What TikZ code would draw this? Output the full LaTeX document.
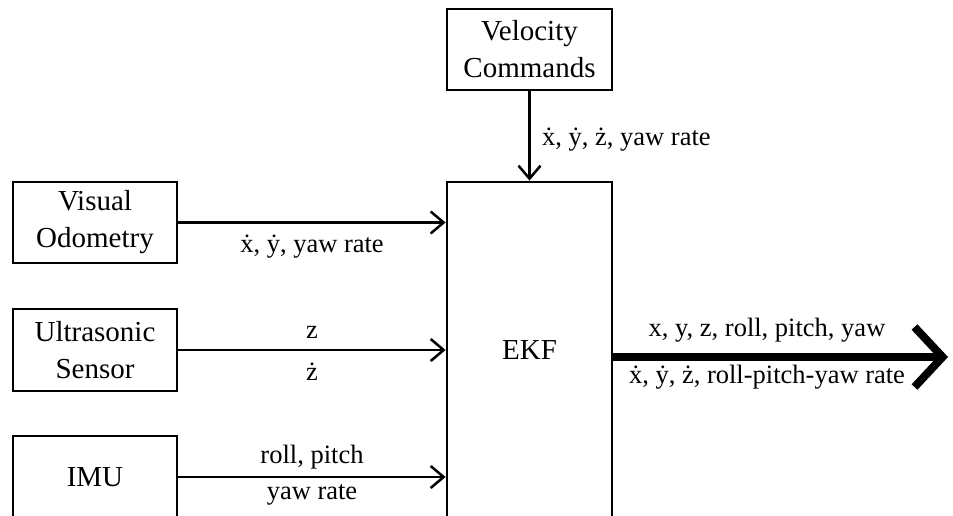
\documentclass[tikz,border=0pt]{standalone}
\usepackage{fontspec}
\setmainfont{Liberation Serif}
\usetikzlibrary{arrows.meta}
\tikzset{
  blk/.style={draw, line width=2.8pt, inner sep=0pt, align=center,
    font=\fontsize{29}{37}\selectfont},
  lbl/.style={font=\fontsize{26.5}{32}\selectfont, inner sep=0pt},
  flow/.style={line width=2.5pt, -{Straight Barb[length=13pt,width=22pt]}},
  bigflow/.style={line width=8pt, -{Straight Barb[length=28pt,width=60pt]}}
}
\begin{document}
\begin{tikzpicture}[x=1pt,y=-1pt]
\clip (0,0) rectangle (953,515);
\fill[white] (0,0) rectangle (953,515);
% boxes
\node[blk, minimum width=165pt, minimum height=81pt] (vel) at (529.5,49.5) {Velocity\\Commands};
\node[blk, minimum width=165pt, minimum height=336pt] (ekf) at (529.5,350) {EKF};
\node[blk, minimum width=164pt, minimum height=81pt] (vo) at (95,222.5) {Visual\\Odometry};
\node[blk, minimum width=164pt, minimum height=82pt] (us) at (95,350) {Ultrasonic\\Sensor};
\node[blk, minimum width=164pt, minimum height=82pt] (imu) at (95,477) {IMU};
\coordinate (out) at (948,357);
% arrows
\draw[flow] (vel.south) -- (ekf.north);
\draw[flow] (vo.east) -- (vo.east -| ekf.west);
\draw[flow] (us.east) -- (us.east -| ekf.west);
\draw[flow] (imu.east) -- (imu.east -| ekf.west);
\draw[bigflow] (ekf.east |- out) -- (out);
% labels
\node[lbl, anchor=west] (l1) at (542,140) {\.{x}, \.{y}, \.{z}, yaw rate};
\node[lbl] (l2) at (312,247) {\.{x}, \.{y}, yaw rate};
\node[lbl] (l3) at (312,332) {z};
\node[lbl] (l4) at (312,372) {\.{z}};
\node[lbl] (l5) at (312,457) {roll, pitch};
\node[lbl] (l6) at (312,495) {yaw rate};
\node[lbl] (l7) at (767,330) {x, y, z, roll, pitch, yaw};
\node[lbl] (l8) at (767,377) {\.{x}, \.{y}, \.{z}, roll-pitch-yaw rate};
\end{tikzpicture}
\end{document}
